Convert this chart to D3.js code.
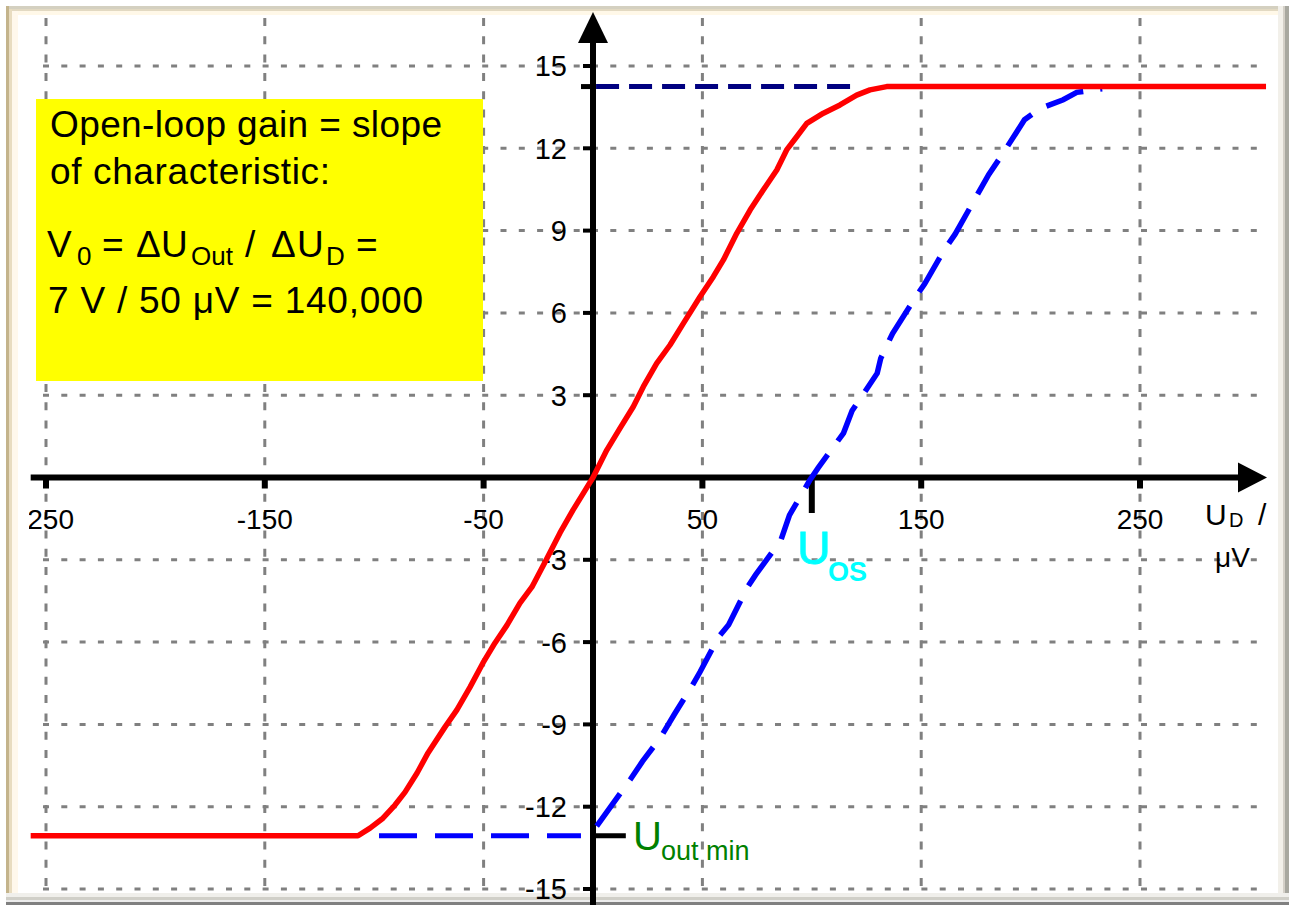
<!DOCTYPE html>
<html>
<head>
<meta charset="utf-8">
<script src="https://cdn.jsdelivr.net/npm/d3@7"></script>
<style>
    body { margin: 0; background: #ffffff; }
    svg { display: block; font-family: "Liberation Sans", Arial, sans-serif; }
</style>
</head>
<body>
<div id="chart"></div>
<script>
// axis ticks
var xTicks = [-250, -150, -50, 50, 150, 250];
var xTickLabels = ["-250", "-150", "-50", "50", "150", "250"];
var yTicks = [15, 12, 9, 6, 3, -3, -6, -9, -12, -15];
var yTickLabels = ["15", "12", "9", "6", "3", "-3", "-6", "-9", "-12", "-15"];

// ideal op-amp characteristic (red), U_D in µV, U_out in V
var redUd = [-257, -107.4, -101.9, -96.0, -90.5, -85.9, -80.4, -75.4, -67.6, -62.2, -56.2, -50.3,
    -44.8, -39.3, -33.4, -27.9, -21.9, -15.1, -9.1, -2.7, 0, 6.3, 12.3, 18.4, 23.0, 29.1, 35.2,
    41.3, 48.9, 55.0, 59.6, 65.7, 71.8, 77.8, 84.0, 88.5, 93.1, 97.7, 105.3, 112.9, 120.5, 126.6,
    134.2, 307.6];
var redUout = [-13.06, -13.06, -12.78, -12.42, -11.94, -11.47, -10.77, -10.04, -9.09, -8.47, -7.64,
    -6.76, -6.03, -5.38, -4.58, -3.99, -3.08, -2.02, -1.18, -0.35, 0, 1.0, 1.79, 2.58, 3.31, 4.16,
    4.83, 5.62, 6.59, 7.32, 7.93, 8.9, 9.75, 10.48, 11.21, 11.94, 12.42, 12.91, 13.28, 13.58,
    13.94, 14.13, 14.25, 14.25];

// characteristic with offset voltage (blue dashed)
var blueUd = [1.7, 17.2, 22.6, 31.1, 37.2, 45.0, 48.9, 57.3, 62.0, 70.5, 74.3, 85.9, 89.8, 99.0,
    102.9, 114.5, 118.4, 129.9, 131.5, 136.9, 147.7, 151.6, 160.8, 165.5, 180.9, 187.1, 197.2,
    204.1, 214.9, 221.1, 232.7];
var blueUout = [-12.71, -10.99, -10.35, -9.45, -8.63, -7.63, -7.09, -5.82, -5.37, -4.01, -3.55,
    -2.28, -1.37, -0.11, 0.35, 1.62, 2.43, 3.80, 4.34, 5.25, 6.61, 7.06, 8.33, 8.87, 11.05, 11.78,
    13.04, 13.44, 13.77, 14.04, 14.17];

var uOutMax = 14.25;
var uOutMin = -13.06;
var uOffset = 100;

var svgWidth = 1289;
var svgHeight = 905;

var svg = d3.select("#chart").append("svg")
    .attr("width", svgWidth)
    .attr("height", svgHeight);

var xScale = d3.scaleLinear().domain([-250, 250]).range([46, 1140]);
var yScale = d3.scaleLinear().domain([-15, 15]).range([889, 66]);

// window frame (drawn first, content sits on top of it)
var frame = svg.append("g");
function band(x, y, w, h, c) {
    frame.append("rect").attr("x", x).attr("y", y).attr("width", w).attr("height", h).attr("fill", c);
}
band(6, 6, 1283, 3, "#d4d0c0");
band(6, 9, 1283, 2, "#e2d9c2");
band(6, 11, 1283, 4, "#fff8e8");
band(6, 6, 3, 899, "#c4b48c");
band(9, 9, 3, 896, "#e8dcc0");
band(12, 11, 6, 894, "#fff8ec");
band(1278, 6, 5, 899, "#f2f0ea");
band(1283, 6, 2, 899, "#d4d0c8");
band(1285, 6, 4, 899, "#a8a8a0");
band(6, 893, 1283, 4, "#f0efeb");
band(6, 897, 1283, 3, "#d0cfc8");
band(6, 900, 1283, 2, "#ececec");
band(6, 902, 1283, 3, "#808080");

// grid
var grid = svg.append("g")
    .attr("stroke", "#808080")
    .attr("stroke-width", 3);

grid.selectAll(".vgrid")
    .data(xTicks)
    .enter().append("line")
    .attr("class", "vgrid")
    .attr("x1", function (d) { return xScale(d); })
    .attr("x2", function (d) { return xScale(d); })
    .attr("y1", 18)
    .attr("y2", 893)
    .attr("stroke-dasharray", "8,10.3");

grid.selectAll(".hgrid")
    .data(yTicks)
    .enter().append("line")
    .attr("class", "hgrid")
    .attr("x1", 43)
    .attr("x2", 1267)
    .attr("y1", function (d) { return yScale(d); })
    .attr("y2", function (d) { return yScale(d); })
    .attr("stroke-dasharray", "6,12.3");

// yellow info box
var box = svg.append("g");
box.append("rect")
    .attr("x", 36).attr("y", 99)
    .attr("width", 447).attr("height", 282)
    .attr("fill", "#ffff00");

box.append("text").attr("x", 50).attr("y", 137)
    .attr("font-size", 37).attr("textLength", 392)
    .text("Open-loop gain = slope");
box.append("text").attr("x", 50).attr("y", 184)
    .attr("font-size", 37).attr("textLength", 280)
    .text("of characteristic:");

var formula = [
    {s: "V", x: 47, y: 257, f: 37},
    {s: "0", x: 77, y: 265, f: 26},
    {s: "=", x: 102, y: 257, f: 37},
    {s: "\u0394", x: 136, y: 257, f: 37},
    {s: "U", x: 161, y: 257, f: 37},
    {s: "Out", x: 191, y: 265, f: 26},
    {s: "/", x: 245, y: 257, f: 37},
    {s: "\u0394", x: 271, y: 257, f: 37},
    {s: "U", x: 297, y: 257, f: 37},
    {s: "D", x: 326, y: 265, f: 26},
    {s: "=", x: 356, y: 257, f: 37}
];
box.selectAll(".formula")
    .data(formula)
    .enter().append("text")
    .attr("class", "formula")
    .attr("x", function (d) { return d.x; })
    .attr("y", function (d) { return d.y; })
    .attr("font-size", function (d) { return d.f; })
    .text(function (d) { return d.s; });

box.append("text").attr("x", 48).attr("y", 313)
    .attr("font-size", 37).attr("textLength", 375)
    .text("7 V / 50 \u03bcV = 140,000");

// tick labels
svg.append("clipPath").attr("id", "xlabel-clip")
    .append("rect").attr("x", 29).attr("y", 0).attr("width", 1260).attr("height", 905);

svg.append("g")
    .attr("clip-path", "url(#xlabel-clip)")
    .selectAll("text")
    .data(xTicks)
    .enter().append("text")
    .attr("x", function (d) { return xScale(d); })
    .attr("y", 529)
    .attr("text-anchor", "middle")
    .attr("font-size", 28)
    .text(function (d, i) { return xTickLabels[i]; });

svg.append("g")
    .selectAll("text")
    .data(yTicks)
    .enter().append("text")
    .attr("x", 567)
    .attr("y", function (d) { return yScale(d); })
    .attr("dy", "0.36em")
    .attr("text-anchor", "end")
    .attr("font-size", 29)
    .text(function (d, i) { return yTickLabels[i]; });

// axes with arrows
var axes = svg.append("g");
var x0 = xScale(0), y0 = yScale(0);

axes.append("line")
    .attr("x1", xScale(-257)).attr("x2", 1242)
    .attr("y1", y0).attr("y2", y0)
    .attr("stroke", "#000").attr("stroke-width", 6);
axes.append("polygon")
    .attr("points", [[1238, y0 - 15], [1267, y0], [1238, y0 + 15]].join(" "))
    .attr("fill", "#000");

axes.append("line")
    .attr("x1", x0).attr("x2", x0)
    .attr("y1", 905).attr("y2", 40)
    .attr("stroke", "#000").attr("stroke-width", 6);
axes.append("polygon")
    .attr("points", [[x0 - 15, 43], [x0, 12], [x0 + 15, 43]].join(" "))
    .attr("fill", "#000");

axes.selectAll(".xtick")
    .data(xTicks)
    .enter().append("rect")
    .attr("class", "xtick")
    .attr("x", function (d) { return xScale(d) - 3; })
    .attr("y", y0)
    .attr("width", 6)
    .attr("height", 11);

axes.selectAll(".ytick")
    .data(yTicks)
    .enter().append("rect")
    .attr("class", "ytick")
    .attr("x", x0 - 10)
    .attr("y", function (d) { return yScale(d) - 2; })
    .attr("width", 10)
    .attr("height", 4);

// tick at U_out max, at U_out min and at U_OS
axes.append("line")
    .attr("x1", x0 - 12).attr("x2", x0)
    .attr("y1", yScale(uOutMax)).attr("y2", yScale(uOutMax))
    .attr("stroke", "#000").attr("stroke-width", 5);
axes.append("line")
    .attr("x1", x0).attr("x2", xScale(15))
    .attr("y1", yScale(uOutMin)).attr("y2", yScale(uOutMin))
    .attr("stroke", "#000").attr("stroke-width", 5);
axes.append("line")
    .attr("x1", xScale(uOffset)).attr("x2", xScale(uOffset))
    .attr("y1", y0).attr("y2", 513)
    .attr("stroke", "#000").attr("stroke-width", 6);

// guide lines for saturation levels
svg.append("line")
    .attr("x1", xScale(1.4)).attr("x2", xScale(117.5))
    .attr("y1", yScale(uOutMax)).attr("y2", yScale(uOutMax))
    .attr("stroke", "#000080").attr("stroke-width", 5)
    .attr("stroke-dasharray", "23,10");
svg.append("line")
    .attr("x1", xScale(-97.8)).attr("x2", xScale(-5.5))
    .attr("y1", yScale(uOutMin)).attr("y2", yScale(uOutMin))
    .attr("stroke", "#0000ff").attr("stroke-width", 5)
    .attr("stroke-dasharray", "38,18");

// curves
var line = d3.line()
    .x(function (d) { return xScale(d[0]); })
    .y(function (d) { return yScale(d[1]); });

svg.append("path")
    .datum(d3.zip(blueUd, blueUout))
    .attr("d", line)
    .attr("fill", "none")
    .attr("stroke", "#0000ff")
    .attr("stroke-width", 5.5)
    .attr("stroke-dasharray", "40,17");

svg.append("path")
    .datum(d3.zip(redUd, redUout))
    .attr("d", line)
    .attr("fill", "none")
    .attr("stroke", "#ff0000")
    .attr("stroke-width", 5.5)
    .attr("stroke-linejoin", "round");

// annotations
var ann = svg.append("g");
ann.append("text").attr("x", 633).attr("y", 850)
    .attr("font-size", 40).attr("fill", "#008000").text("U");
ann.append("text").attr("x", 661).attr("y", 860)
    .attr("font-size", 27).attr("fill", "#008000").text("out min");

ann.append("text").attr("x", 797).attr("y", 564)
    .attr("font-size", 46).attr("fill", "#00ffff")
    .attr("stroke", "#00ffff").attr("stroke-width", 1).text("U");
ann.append("text").attr("x", 828).attr("y", 581)
    .attr("font-size", 27).attr("font-weight", "bold").attr("fill", "#00ffff").text("OS");

ann.append("text").attr("x", 1205).attr("y", 525).attr("font-size", 30).text("U");
ann.append("text").attr("x", 1229).attr("y", 527).attr("font-size", 20).text("D");
ann.append("text").attr("x", 1258).attr("y", 525).attr("font-size", 30).text("/");
ann.append("text").attr("x", 1215).attr("y", 567).attr("font-size", 28).text("\u03bcV");
</script>
</body>
</html>
